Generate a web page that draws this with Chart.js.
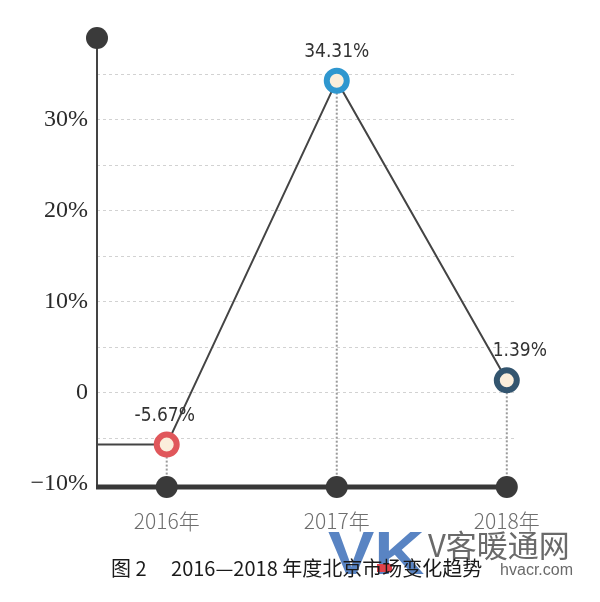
<!DOCTYPE html>
<html><head><meta charset="utf-8">
<script src="https://cdn.jsdelivr.net/npm/chart.js@4/dist/chart.umd.min.js"></script>
<style>html,body{margin:0;padding:0;background:#fff}#wrap{width:600px;height:602px;position:relative}</style>
</head><body><div id="wrap"><canvas id="c" width="600" height="602"></canvas></div>
<script>
const years = ['2016年', '2017年', '2018年'];
const changeRates = [-5.67, 34.31, 1.39];
const rateLabels = ['-5.67%', '34.31%', '1.39%'];
const yTickValues = [-10, -5, 0, 5, 10, 15, 20, 25, 30, 35];
const yTickLabels = {'-10': '−10%', '0': '0', '10': '10%', '20': '20%', '30': '30%'};
const pointColors = ['#e0575b', '#2f97cf', '#33556f'];
const captionText = '图 2\u3000 2016—2018 年度北京市场变化趋势';
const Y_MIN = -10.33, Y_MAX = 39, X_MIN = -0.41, X_MAX = 2.06;

const mainPoints = changeRates.map((v, i) => ({x: i, y: v}));
const basePoints = years.map((_, i) => ({x: i, y: Y_MIN}));

const decor = {
  id: 'decor',
  beforeDatasetsDraw(chart) {
    const {ctx} = chart, xs = chart.scales.x, ys = chart.scales.y;
    ctx.save();
    ctx.strokeStyle = '#9a9a9a'; ctx.lineWidth = 2; ctx.setLineDash([2, 2]);
    changeRates.forEach((v, i) => {
      const px = xs.getPixelForValue(i);
      ctx.beginPath(); ctx.moveTo(px, ys.getPixelForValue(v)); ctx.lineTo(px, ys.getPixelForValue(Y_MIN)); ctx.stroke();
    });
    ctx.setLineDash([]);
    const lx = xs.getPixelForValue(X_MIN);
    ctx.strokeStyle = '#444'; ctx.lineWidth = 2;
    ctx.beginPath(); ctx.moveTo(lx, ys.getPixelForValue(Y_MAX)); ctx.lineTo(lx, ys.getPixelForValue(Y_MIN)); ctx.stroke();
    ctx.strokeStyle = '#383838'; ctx.lineWidth = 5;
    ctx.beginPath(); ctx.moveTo(lx - 1, ys.getPixelForValue(Y_MIN)); ctx.lineTo(xs.getPixelForValue(years.length - 1), ys.getPixelForValue(Y_MIN)); ctx.stroke();
    ctx.restore();
  },
  afterDatasetsDraw(chart) {
    const {ctx} = chart, xs = chart.scales.x, ys = chart.scales.y;
    ctx.save();
    ctx.font = '19px "DejaVu Sans Condensed", "DejaVu Sans", sans-serif';
    ctx.fillStyle = '#333'; ctx.textAlign = 'center'; ctx.textBaseline = 'middle';
    const dx = [-2, 0, 13];
    changeRates.forEach((v, i) => {
      ctx.fillText(rateLabels[i], xs.getPixelForValue(i) + dx[i], ys.getPixelForValue(v) - 29);
    });
    // watermark
    ctx.fillStyle = 'rgba(60,110,185,0.85)';
    ctx.font = 'bold 62px "Liberation Sans", sans-serif';
    ctx.textAlign = 'left'; ctx.textBaseline = 'alphabetic';
    ctx.save(); ctx.translate(328, 574); ctx.scale(1.12, 1); ctx.fillText('VK', 0, 0); ctx.restore();
    ctx.fillStyle = '#6a6a6a';
    ctx.font = '31px "Noto Sans CJK SC", serif';
    ctx.fillText('V客暖通网', 428, 557);
    ctx.font = '16px "Liberation Sans", sans-serif';
    ctx.textAlign = 'right';
    ctx.fillText('hvacr.com', 573, 575);
    ctx.fillStyle = '#e0424a';
    ctx.fillRect(377, 564, 15, 8);
    // caption
    ctx.fillStyle = '#1a1a1a';
    ctx.font = '20px "Noto Sans CJK SC", sans-serif';
    ctx.textAlign = 'left'; ctx.textBaseline = 'middle';
    ctx.fillText(captionText, 111, 568);
    ctx.restore();
  }
};

new Chart(document.getElementById('c'), {
  type: 'scatter',
  data: {
    datasets: [
      {
        type: 'line', data: mainPoints, order: 2,
        borderColor: '#444', borderWidth: 2, tension: 0,
        pointRadius: 10, pointBorderWidth: 6, pointBackgroundColor: '#fbeedb',
        pointBorderColor: pointColors, pointHoverRadius: 10, clip: false
      },
      {
        type: 'line', data: [{x: X_MIN, y: changeRates[0]}, {x: 0, y: changeRates[0]}], order: 3,
        borderColor: '#444', borderWidth: 2, pointRadius: 0, clip: false
      },
      {
        data: basePoints, order: 1, pointRadius: 11, backgroundColor: '#3a3a3a', borderWidth: 0, clip: false
      },
      {
        data: [{x: X_MIN, y: Y_MAX}], order: 1, pointRadius: 11, backgroundColor: '#3a3a3a', borderWidth: 0, clip: false
      }
    ]
  },
  options: {
    responsive: false, animation: false, events: [],
    layout: {padding: {top: 38, right: 83, left: 0, bottom: 0}},
    plugins: {legend: {display: false}, tooltip: {enabled: false}},
    scales: {
      x: {
        type: 'linear', min: X_MIN, max: X_MAX,
        afterBuildTicks: s => { s.ticks = years.map((_, i) => ({value: i})); },
        afterFit: s => { s.height = 115; },
        grid: {display: false, drawTicks: false}, border: {display: false},
        ticks: {
          callback: v => years[v] ?? '', color: '#6e6e6e', padding: 21,
          font: {family: '"Noto Sans CJK SC", "DejaVu Sans", sans-serif', size: 21, weight: '300'}, maxRotation: 0
        }
      },
      y: {
        min: Y_MIN, max: Y_MAX,
        afterBuildTicks: s => { s.ticks = yTickValues.map(v => ({value: v})); },
        afterFit: s => { s.width = 97; },
        grid: {
          drawTicks: false, lineWidth: 1,
          color: c => (c.tick && c.tick.value === -10) ? 'rgba(0,0,0,0)' : '#d2d2d2'
        },
        border: {display: false, dash: [3, 3]},
        ticks: {
          callback: v => yTickLabels[String(v)] ?? '', color: '#2a2a2a', padding: 9,
          font: {family: '"Liberation Serif", serif', size: 24}
        }
      }
    }
  },
  plugins: [decor]
});
</script></body></html>
